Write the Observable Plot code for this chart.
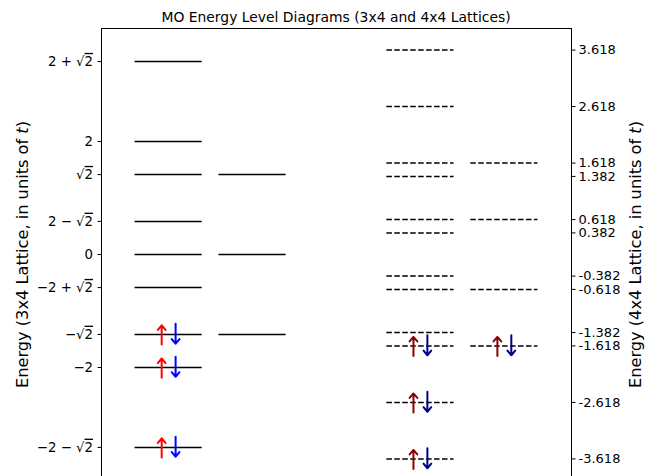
<!DOCTYPE html>
<html><head><meta charset="utf-8">
<script src="https://cdn.jsdelivr.net/npm/d3@7"></script>
<script src="https://cdn.jsdelivr.net/npm/@observablehq/plot@0.6"></script>
<style>
body{margin:0;background:#fff;}
#wrap{position:relative;width:652px;height:476px;overflow:hidden;font-family:"DejaVu Sans",sans-serif;}
#title{position:absolute;top:10px;left:101px;width:470px;text-align:center;font-size:13.9px;color:#000;line-height:14px;z-index:2;white-space:nowrap;}
#chart{position:absolute;top:0;left:0;z-index:1;}
</style></head><body>
<div id="wrap"><div id="title">MO Energy Level Diagrams (3x4 and 4x4 Lattices)</div><div id="chart"></div></div>
<script>
// Column x positions (3x4 lattice: 0,1 ; 4x4 lattice: 3,4)
const col3x4A = 0, col3x4B = 1, col4x4A = 3, col4x4B = 4;
// Energy levels (units of t)
const levels3x4A = [3.414, 2, 1.414, 0.586, 0, -0.586, -1.414, -2, -3.414];
const levels3x4B = [1.414, 0, -1.414];
const levels4x4A = [3.618, 2.618, 1.618, 1.382, 0.618, 0.382, -0.382, -0.618, -1.382, -1.618, -2.618, -3.618];
const levels4x4B = [1.618, 0.618, -0.618, -1.618];
// Occupied (doubly filled) levels
const occupied3x4A = [-1.414, -2, -3.414];
const occupied4x4A = [-1.618, -2.618, -3.618];
const occupied4x4B = [-1.618];
// Tick values and labels
const leftTickValues = [3.414, 2, 1.414, 0.586, 0, -0.586, -1.414, -2, -3.414];
const leftTickLabels = ["2 + \u221A2", "2", "\u221A2", "2 \u2212 \u221A2", "0", "\u22122 + \u221A2", "\u2212\u221A2", "\u22122", "\u22122 \u2212 \u221A2"];
const rightTickValues = [3.618, 2.618, 1.618, 1.382, 0.618, 0.382, -0.382, -0.618, -1.382, -1.618, -2.618, -3.618];
const rightTickLabels = ["3.618", "2.618", "1.618", "1.382", "0.618", "0.382", "-0.382", "-0.618", "-1.382", "-1.618", "-2.618", "-3.618"];
const leftLabel = "Energy (3x4 Lattice, in units of t)";
const rightLabel = "Energy (4x4 Lattice, in units of t)";

const solid = [
  ...levels3x4A.map(e => ({x: col3x4A, e})),
  ...levels3x4B.map(e => ({x: col3x4B, e}))
];
const dashed = [
  ...levels4x4A.map(e => ({x: col4x4A, e})),
  ...levels4x4B.map(e => ({x: col4x4B, e}))
];
const electrons = [
  ...occupied3x4A.map(e => ({x: col3x4A, e, up: "red", down: "blue"})),
  ...occupied4x4A.map(e => ({x: col4x4A, e, up: "darkred", down: "darkblue"})),
  ...occupied4x4B.map(e => ({x: col4x4B, e, up: "darkred", down: "darkblue"}))
];
const leftMap = new Map(leftTickValues.map((v, i) => [v, leftTickLabels[i]]));
const rightMap = new Map(rightTickValues.map((v, i) => [v, rightTickLabels[i]]));

const hw = 0.4, dxArrow = 0.083;
const plot = Plot.plot({
  width: 652,
  height: 482,
  marginTop: 28,
  marginBottom: 2,
  marginLeft: 101,
  marginRight: 81,
  style: {fontFamily: "DejaVu Sans", fontSize: "13px", color: "black", background: "white"},
  x: {domain: [-0.8, 4.8], axis: null},
  y: {domain: [-4, 4]},
  marks: [
    Plot.frame({stroke: "black", strokeWidth: 1}),
    Plot.axisY({anchor: "left", ticks: leftTickValues, tickFormat: d => leftMap.get(d), tickSize: 3.5, tickPadding: 5, fontSize: 13.3, label: null}),
    Plot.axisY({anchor: "right", ticks: rightTickValues, tickFormat: d => rightMap.get(d), tickSize: 3.5, tickPadding: 3.5, fontSize: 13, label: null}),
    Plot.text([leftLabel], {frameAnchor: "left", dx: -79, rotate: -90, fontSize: 16.2, text: d => d, textAnchor: "middle"}),
    Plot.text([rightLabel], {frameAnchor: "right", dx: 64, rotate: -90, fontSize: 16.2, text: d => d, textAnchor: "middle"}),
    Plot.ruleY(solid, {y: "e", x1: d => d.x - hw, x2: d => d.x + hw, stroke: "black", strokeWidth: 1.5}),
    Plot.ruleY(dashed, {y: "e", x1: d => d.x - hw, x2: d => d.x + hw, stroke: "black", strokeWidth: 1.5, strokeDasharray: "5.55,2.4"}),
    Plot.arrow(electrons, {x1: d => d.x - dxArrow, x2: d => d.x - dxArrow, y1: d => d.e - 0.18, y2: d => d.e + 0.16, stroke: d => d.up, strokeWidth: 2, headLength: 4.5, headAngle: 80}),
    Plot.arrow(electrons, {x1: d => d.x + dxArrow, x2: d => d.x + dxArrow, y1: d => d.e + 0.19, y2: d => d.e - 0.165, stroke: d => d.down, strokeWidth: 2, headLength: 4.5, headAngle: 80})
  ]
});
document.getElementById("chart").appendChild(plot);
d3.select(plot).selectAll("text").each(function() {
  const t = this.textContent;
  const el = d3.select(this);
  if (t.endsWith("units of t)")) {
    // italic t in axis labels
    el.text(null);
    el.append("tspan").text(t.slice(0, -2));
    el.append("tspan").attr("font-style", "italic").text("t");
    el.append("tspan").text(")");
  } else if (t.includes("\u221A")) {
    // radical with bar over the radicand
    const i = t.indexOf("\u221A");
    el.text(null);
    if (i > 0) el.append("tspan").text(t.slice(0, i));
    el.append("tspan").text("\u221A");
    el.append("tspan").style("text-decoration", "overline").text(t.slice(i + 1));
  }
});
</script>
</body></html>
